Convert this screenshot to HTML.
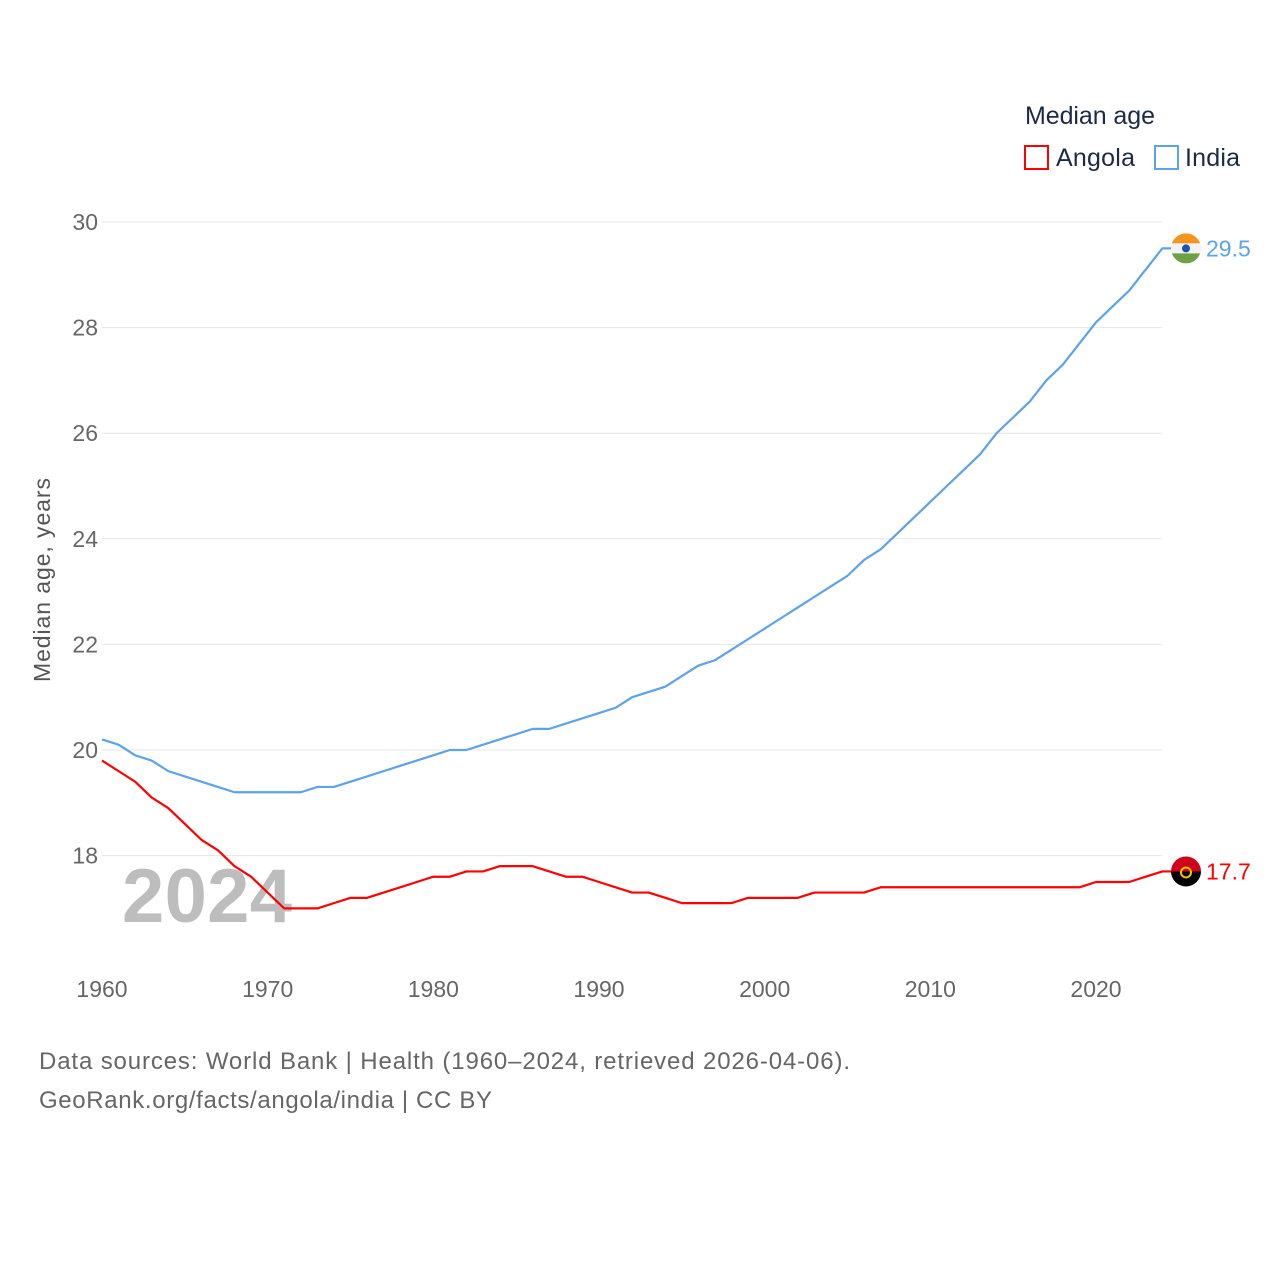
<!DOCTYPE html>
<html><head><meta charset="utf-8"><style>
body{margin:0;background:#fff;font-family:"Liberation Sans",sans-serif}
svg text{font-family:"Liberation Sans",sans-serif}
</style></head><body>
<svg width="1280" height="1280" id="chart">
<text x="1025" y="124" font-size="25" fill="#1a2b45" textLength="130">Median age</text>
<rect x="1025" y="146" width="23" height="23" fill="none" stroke="#ff0000" stroke-width="2"/>
<text x="1056" y="166" font-size="25" fill="#1a2b45" textLength="79">Angola</text>
<rect x="1155" y="146" width="23" height="23" fill="none" stroke="#5ba3eb" stroke-width="2"/>
<text x="1185" y="166" font-size="25" fill="#1a2b45" textLength="55">India</text>
<g id="grid"></g>
<text x="50" y="580" font-size="23" fill="#555" text-anchor="middle" textLength="204" transform="rotate(-90 50 580)">Median age, years</text>
<text x="122" y="922" font-size="76" font-weight="bold" fill="#bdbdbd" textLength="170">2024</text>
<g id="series"></g>
<text x="39" y="1069" font-size="24" fill="#666" textLength="811">Data sources: World Bank | Health (1960–2024, retrieved 2026-04-06).</text>
<text x="39" y="1108" font-size="24" fill="#666" textLength="453">GeoRank.org/facts/angola/india | CC BY</text>
</svg>
<script>
const years=[];for(let y=1960;y<=2024;y++)years.push(y);
const angola=[19.8,19.6,19.4,19.1,18.9,18.6,18.3,18.1,17.8,17.6,17.3,17.0,17.0,17.0,17.1,17.2,17.2,17.3,17.4,17.5,17.6,17.6,17.7,17.7,17.8,17.8,17.8,17.7,17.6,17.6,17.5,17.4,17.3,17.3,17.2,17.1,17.1,17.1,17.1,17.2,17.2,17.2,17.2,17.3,17.3,17.3,17.3,17.4,17.4,17.4,17.4,17.4,17.4,17.4,17.4,17.4,17.4,17.4,17.4,17.4,17.5,17.5,17.5,17.6,17.7];
const india=[20.2,20.1,19.9,19.8,19.6,19.5,19.4,19.3,19.2,19.2,19.2,19.2,19.2,19.3,19.3,19.4,19.5,19.6,19.7,19.8,19.9,20.0,20.0,20.1,20.2,20.3,20.4,20.4,20.5,20.6,20.7,20.8,21.0,21.1,21.2,21.4,21.6,21.7,21.9,22.1,22.3,22.5,22.7,22.9,23.1,23.3,23.6,23.8,24.1,24.4,24.7,25.0,25.3,25.6,26.0,26.3,26.6,27.0,27.3,27.7,28.1,28.4,28.7,29.1,29.5];
const yTicks=[18,20,22,24,26,28,30];
const xTicks=[1960,1970,1980,1990,2000,2010,2020];
const NS="http://www.w3.org/2000/svg";
const X=v=>102+(v-1960)*16.567;
const Y=v=>750-(v-20)*52.8;
function mk(tag,attrs,parent){const e=document.createElementNS(NS,tag);for(const k in attrs)e.setAttribute(k,attrs[k]);parent.appendChild(e);return e;}
const grid=document.getElementById('grid'),ser=document.getElementById('series');
yTicks.forEach(t=>{
 const l=mk('line',{x1:102,x2:1162,y1:Y(t),y2:Y(t),stroke:'#e6e6e6','stroke-width':1},grid);
 
 
 const tx=mk('text',{x:98,y:Y(t)+8,'font-size':23,fill:'#666','text-anchor':'end'},grid);tx.textContent=t;
 
 
});
xTicks.forEach(t=>{
 const tx=mk('text',{x:X(t),y:997,'font-size':23,fill:'#666','text-anchor':'middle'},grid);tx.textContent=t;
 
 
});
function line(data,color,name){
 const p=mk('polyline',{points:data.map((v,i)=>X(years[i])+','+Y(v)).join(' ')+' '+(X(2024)+10)+','+Y(data[data.length-1]),fill:'none',stroke:color,'stroke-width':2.2,'stroke-linejoin':'round'},ser);
 
 
}
line(india,'#5ba3eb','india');line(angola,'#ff0000','angola');
const iy=Y(india[india.length-1]),ay=Y(angola[angola.length-1]);
const fi=mk('g',{},ser);


const cp=mk('clipPath',{id:'ci'},fi);
mk('circle',{cx:1186,cy:iy,r:15},cp);
mk('rect',{x:1171,y:iy-15,width:30,height:10,fill:'#f7941d','clip-path':'url(#ci)'},fi);
mk('rect',{x:1171,y:iy-5,width:30,height:10,fill:'#f2f2f2','clip-path':'url(#ci)'},fi);
mk('rect',{x:1171,y:iy+5,width:30,height:10,fill:'#6da143','clip-path':'url(#ci)'},fi);
mk('circle',{cx:1186,cy:iy,r:4,fill:'#1a56b0'},fi);
const il=mk('text',{x:1206,y:iy+8,'font-size':23,fill:'#5ba3eb'},ser);il.textContent=india[india.length-1].toFixed(1);


const fa=mk('g',{},ser);


mk('path',{d:`M1171 ${ay} A15 15 0 0 1 1201 ${ay} Z`,fill:'#d0021b'},fa);
mk('path',{d:`M1171 ${ay} A15 15 0 0 0 1201 ${ay} Z`,fill:'#000'},fa);
mk('circle',{cx:1186,cy:ay+1,r:5,fill:'none',stroke:'#f5c400','stroke-width':2},fa);
const al=mk('text',{x:1206,y:ay+8,'font-size':23,fill:'#ff0000'},ser);al.textContent=angola[angola.length-1].toFixed(1);


</script>
</body></html>
